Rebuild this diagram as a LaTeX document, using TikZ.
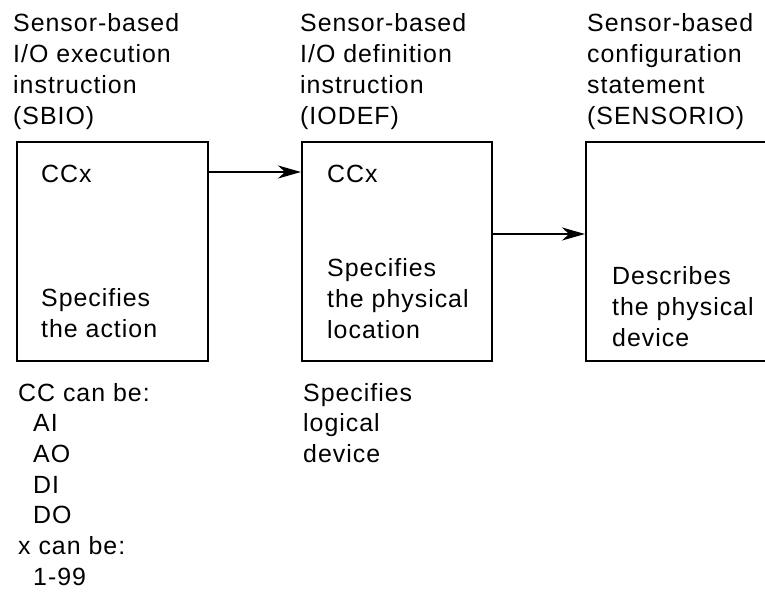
\documentclass[tikz,border=0pt]{standalone}
\usepackage{fontspec}
\setmainfont[LetterSpace=4]{Liberation Sans}
\usetikzlibrary{arrows.meta}
% multi-line text whose reference point is the first baseline
\newcommand{\tlines}[1]{\begin{tabular}[t]{@{}l@{}}#1\end{tabular}}
\tikzset{
  box/.style={draw=black, line width=1.9pt, inner sep=0pt, anchor=north west},
  txt/.style={anchor=base west, inner sep=0pt,
    font=\fontsize{24.9}{30.7}\selectfont},
  arr/.style={line width=1.9pt, -{Stealth[length=23pt, width=13pt, inset=7pt]}}
}
\begin{document}
\begin{tikzpicture}[x=1pt, y=-1pt]
  \useasboundingbox (0,0) rectangle (765,593);
  \clip (0,0) rectangle (765,593);
  \fill[white] (0,0) rectangle (765,593);

  % headings above the three boxes
  \node[txt] (h1) at (13,32) {\tlines{Sensor-based\\I/O execution\\instruction\\(SBIO)}};
  \node[txt] (h2) at (300,32) {\tlines{Sensor-based\\I/O definition\\instruction\\(IODEF)}};
  \node[txt] (h3) at (587,32) {\tlines{Sensor-based\\configuration\\statement\\(SENSORIO)}};

  % the three boxes (the last one runs off the right edge)
  \node[box, minimum width=191pt, minimum height=219pt] (b1) at (16,141) {};
  \node[box, minimum width=190pt, minimum height=219pt] (b2) at (301,141) {};
  \node[box, minimum width=220pt, minimum height=219pt] (b3) at (585,141) {};

  % box contents
  \node[txt] (c1) at (41,183) {CCx};
  \node[txt] (s1) at (41,307) {\tlines{Specifies\\the action}};
  \node[txt] (c2) at (327,183) {CCx};
  \node[txt] (s2) at (327,277) {\tlines{Specifies\\the physical\\location}};
  \node[txt] (s3) at (612,285) {\tlines{Describes\\the physical\\device}};

  % notes below the boxes
  \node[txt] (n1) at (18,401) {\tlines{CC can be:\\\hspace*{15pt}AI\\\hspace*{15pt}AO\\\hspace*{15pt}DI\\\hspace*{15pt}DO\\x can be:\\\hspace*{15pt}1-99}};
  \node[txt] (n2) at (303,401) {\tlines{Specifies\\logical\\device}};

  % connectors
  \draw[arr] (b1.east |- 0,172) -- (b2.west |- 0,172);
  \draw[arr] (b2.east |- 0,234) -- (b3.west |- 0,234);
\end{tikzpicture}
\end{document}
